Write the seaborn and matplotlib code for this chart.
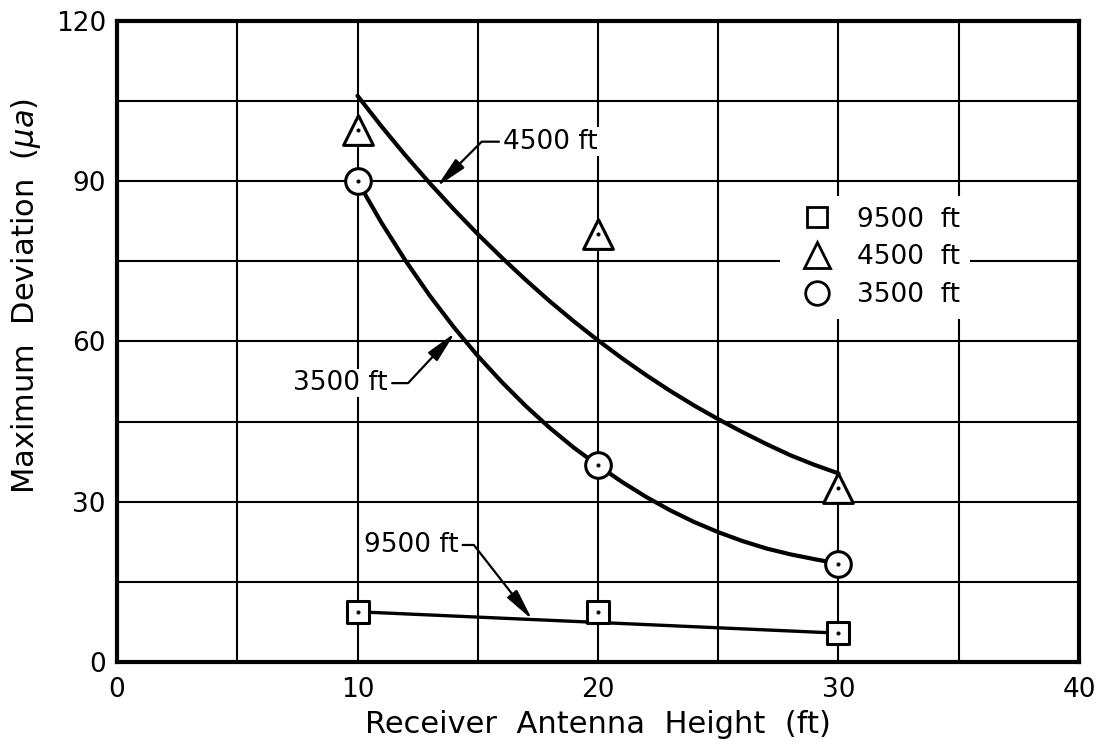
import matplotlib
matplotlib.use('Agg')
import matplotlib.pyplot as plt
from matplotlib.lines import Line2D
import pandas as pd
import seaborn as sns

# measured points (receiver antenna height in ft, max deviation in microamps)
heights = [10, 20, 30]
dev_9500 = [9.4, 9.4, 5.4]
dev_4500 = [99.6, 80.1, 32.6]
dev_3500 = [90.0, 36.8, 18.4]

# faired curves
fit_9500_x = [10, 30]
fit_9500_y = [9.4, 5.4]
fit_x = list(range(10, 31))
fit_4500_y = [106.0, 100.25, 94.8, 89.65, 84.75, 80.1, 75.7, 71.5, 67.5, 63.75, 60.2,
              56.85, 53.7, 50.75, 48.0, 45.45, 43.05, 40.8, 38.7, 36.9, 35.3]
fit_3500_y = [90.0, 82.2, 75.1, 68.6, 62.7, 57.3, 52.4, 47.9, 43.8, 40.1, 36.8,
              33.7, 30.9, 28.4, 26.2, 24.3, 22.65, 21.25, 20.15, 19.25, 18.4]

labels = ['9500 ft', '4500 ft', '3500 ft']

sns.set_style('white')
plt.rcParams['font.family'] = ['DejaVu Sans']
plt.rcParams['text.color'] = 'black'
plt.rcParams['axes.labelcolor'] = 'black'
plt.rcParams['xtick.color'] = 'black'
plt.rcParams['ytick.color'] = 'black'

fig = plt.figure(figsize=(11.07, 7.48), dpi=100)
ax = fig.add_axes([0.1057, 0.115, 0.869, 0.857])

# curves
sns.lineplot(x=fit_9500_x, y=fit_9500_y, ax=ax, color='black', lw=2.4, sort=False, zorder=3)
sns.lineplot(x=fit_x, y=fit_4500_y, ax=ax, color='black', lw=3.0, sort=False, zorder=3)
sns.lineplot(x=fit_x, y=fit_3500_y, ax=ax, color='black', lw=3.0, sort=False, zorder=3)

# measured points
pts = pd.DataFrame({'h': heights * 3,
                    'dev': dev_9500 + dev_4500 + dev_3500,
                    'alt': [labels[0]] * 3 + [labels[1]] * 3 + [labels[2]] * 3})
mk = {'9500 ft': 's', '4500 ft': '^', '3500 ft': 'o'}
sz = {'9500 ft': 240, '4500 ft': 460, '3500 ft': 340}
for alt in labels:
    sub = pts[pts['alt'] == alt]
    sns.scatterplot(data=sub, x='h', y='dev', ax=ax, marker=mk[alt], s=sz[alt],
                    facecolor='white', edgecolor='black', linewidth=2.2, zorder=4)
sns.scatterplot(data=pts, x='h', y='dev', ax=ax, marker='o', s=7, color='black',
                edgecolor='black', zorder=5)

ax.set_xlim(0, 40)
ax.set_ylim(0, 120)
ax.set_xticks([0, 10, 20, 30, 40])
ax.set_xticks([5, 15, 25, 35], minor=True)
ax.set_yticks([0, 30, 60, 90, 120])
ax.set_yticks([15, 45, 75, 105], minor=True)
ax.grid(which='both', color='black', lw=1.5)
ax.set_axisbelow(True)
ax.tick_params(which='both', length=0, labelsize=19)
ax.tick_params(axis='x', pad=11)
ax.tick_params(axis='y', pad=8)
for sp in ax.spines.values():
    sp.set_linewidth(3)
    sp.set_color('black')

ax.set_xlabel('Receiver  Antenna  Height  (ft)', fontsize=22, labelpad=5)
ax.set_ylabel(r'Maximum  Deviation  ($\mu a$)', fontsize=22, labelpad=11)
ax.yaxis.set_label_coords(-0.077, 0.571)

arrow = dict(arrowstyle='-|>,head_length=1.0,head_width=0.2', color='black', lw=1.6, shrinkB=0)
box = dict(boxstyle='square,pad=0.05', fc='white', ec='none')
ax.annotate('4500 ft', xy=(13.3, 89.0), xytext=(16.05, 97.4), fontsize=19,
            ha='left', va='center', bbox=box, zorder=6,
            arrowprops=dict(arrow, relpos=(0, 0.5),
                            connectionstyle='angle,angleA=0,angleB=45,rad=0'))
ax.annotate('3500 ft', xy=(14.05, 61.6), xytext=(11.27, 52.2), fontsize=19,
            ha='right', va='center', bbox=box, zorder=6,
            arrowprops=dict(arrow, relpos=(1, 0.5),
                            connectionstyle='angle,angleA=0,angleB=47,rad=0'))
ax.annotate('9500 ft', xy=(17.26, 7.95), xytext=(14.2, 21.9), fontsize=19,
            ha='right', va='center', bbox=box, zorder=6,
            arrowprops=dict(arrow, relpos=(1, 0.5),
                            connectionstyle='angle,angleA=0,angleB=-52,rad=0'))

handles = [Line2D([], [], ls='none', marker=m, markersize=ms, markerfacecolor='white',
                  markeredgecolor='black', markeredgewidth=2.0)
           for m, ms in zip(['s', '^', 'o'], [15, 19, 17])]
leg = ax.legend(handles, ['9500  ft', '4500  ft', '3500  ft'], loc='center',
                bbox_to_anchor=(0.788, 0.631), frameon=True, facecolor='white',
                edgecolor='none', framealpha=1, fontsize=19, handletextpad=0.5,
                labelspacing=0.45, borderpad=0.4, fancybox=False)
leg.set_zorder(6)

fig.savefig('out.png', dpi=100)
